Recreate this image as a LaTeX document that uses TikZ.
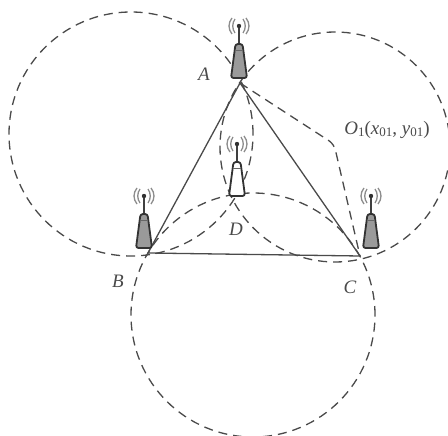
\documentclass[tikz,border=0pt]{standalone}
\usepackage{fontspec}
\setmainfont{Liberation Serif}
\definecolor{inkgray}{HTML}{4A4A4A}
\definecolor{towergray}{HTML}{9A9A9A}
\tikzset{
  every picture/.style={line join=round,line cap=butt},
  ring/.style={inkgray,line width=1.3pt,dash pattern=on 9pt off 6pt},
  side/.style={inkgray,line width=1.3pt},
  lbl/.style={inkgray,font=\fontsize{19}{21}\selectfont\itshape,inner sep=0pt},
  pics/tower/.style={code={
    \draw[black!75,line width=1.1pt](0,-35)--(0,-53);
    \draw[black!80,line width=1.8pt,fill=#1,rounded corners=2.5pt](-8,-1)--(-3.5,-35)--(3.5,-35)--(8,-1)--cycle;
    \draw[black!60,line width=0.8pt](-4,-29)--(4,-29);
    \fill[black!80](0,-53)circle(2.2pt);
    \foreach \s in {1,-1}{
      \draw[black!45,line width=1.3pt](\s*4,-60)..controls(\s*7,-56)and(\s*7,-50)..(\s*4,-46);
      \draw[black!45,line width=1.3pt](\s*7,-61)..controls(\s*11,-56)and(\s*11,-50)..(\s*7,-45);
    }
  }},
}
\newcommand{\lowidx}[1]{\raisebox{-0.25ex}{\fontsize{13}{14}\selectfont\upshape #1}}
\begin{document}
\begin{tikzpicture}[x=1pt,y=-1pt]
\useasboundingbox(0,0)rectangle(448,436);
\fill[white](0,0)rectangle(448,436);
\coordinate(A)at(240,83);
\coordinate(B)at(148,253);
\coordinate(C)at(360,256);
\coordinate(O1)at(334,144);
% three range circles
\begin{scope}
\clip(0,0)rectangle(448,436);
\draw[ring](131,134)circle(122pt);
\draw[ring](335,147)circle(115pt);
\draw[ring](253,315)circle(122pt);
\end{scope}
\draw[side](A)--(B)--(C)--cycle;
\draw[ring,rounded corners=6pt](A)--(O1)--(C);
% stations
\path(239,79)pic{tower=towergray};
\path(144,249)pic{tower=towergray};
\path(237,197)pic{tower=white};
\path(371,249)pic{tower=towergray};
\node[lbl](lblA)at(204,74){A};
\node[lbl](lblB)at(118,281){B};
\node[lbl](lblC)at(350,287){C};
\node[lbl](lblD)at(236,229){D};
\node[lbl](lblO)at(387,130){O\lowidx{1}{\upshape(}x\lowidx{01}{\upshape,} y\lowidx{01}{\upshape)}};
\end{tikzpicture}
\end{document}
